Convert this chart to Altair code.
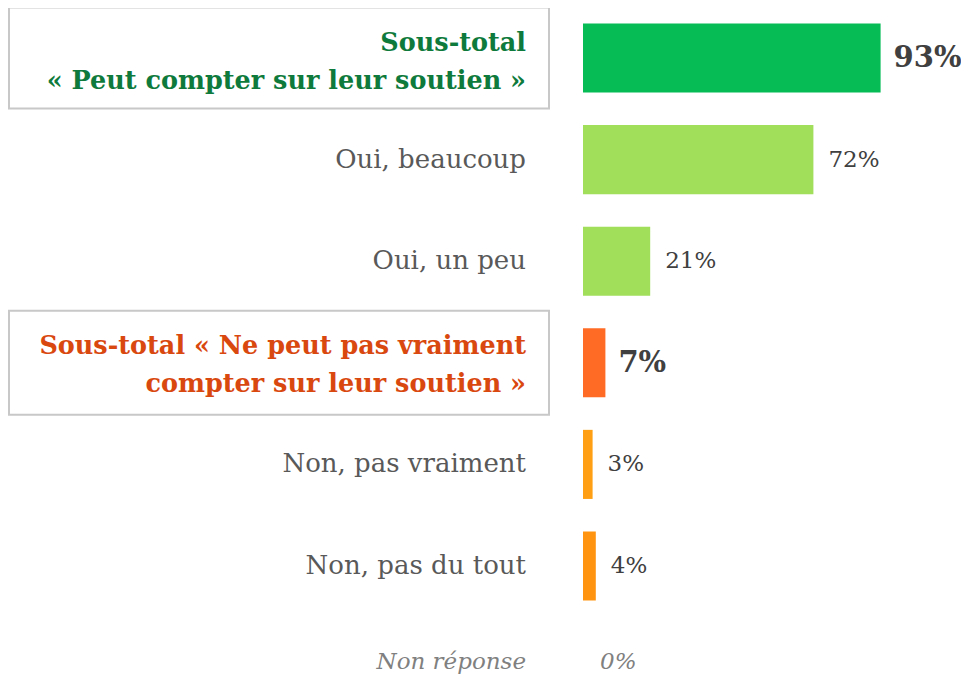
import altair as alt
import pandas as pd

labels = [
    "Sous-total\n« Peut compter sur leur soutien »",
    "Oui, beaucoup",
    "Oui, un peu",
    "Sous-total « Ne peut pas vraiment\ncompter sur leur soutien »",
    "Non, pas vraiment",
    "Non, pas du tout",
    "Non réponse",
]
values = [93, 72, 21, 7, 3, 4, 0]
groups = ["pos_total", "pos", "pos", "neg_total", "neg", "neg", "nr"]
value_text = ["93%", "72%", "21%", "7%", "3%", "4%", "0%"]

bar_colors = ["#05BC55", "#A1DE5A", "#A1DE5A", "#FF6A25", "#FFA014", "#FF9410", "#FFFFFF"]

df = pd.DataFrame({"label": labels, "value": values, "group": groups, "txt": value_text})

FONT = "DejaVu Serif"
x_scale = alt.Scale(domain=[-179.6875, 118.125], nice=False, zero=False)
y_scale = alt.Scale(domain=labels, range=[-0.8, 710.4], paddingInner=0.32, paddingOuter=0.16)
Y = alt.Y("label:N", scale=y_scale, axis=None)
X = alt.X("value:Q", scale=x_scale, axis=None)

base = alt.Chart(df)


def grp(*g):
    return alt.FieldOneOfPredicate(field="group", oneOf=list(g))


box1 = base.transform_filter(grp("pos_total")).mark_bar(
    size=101, fill="white", stroke="#C8C8C8", strokeWidth=2
).encode(x=alt.value(1), x2=alt.value(541), y=Y)

box2 = base.transform_filter(grp("neg_total")).mark_bar(
    size=104, fill="white", stroke="#C8C8C8", strokeWidth=2
).encode(x=alt.value(1), x2=alt.value(541), y=Y)

bars = base.transform_filter(grp("pos_total", "pos", "neg_total", "neg")).mark_bar().encode(
    x=X,
    x2=alt.datum(0),
    y=Y,
    color=alt.Color("label:N", scale=alt.Scale(domain=labels, range=bar_colors), legend=None),
)

val_tot = base.transform_filter(grp("pos_total", "neg_total")).mark_text(
    align="left", baseline="middle", dx=13, font=FONT, fontSize=29, fontWeight="bold", color="#404040"
).encode(x=X, y=Y, text="txt:N")

val_item = base.transform_filter(grp("pos", "neg")).mark_text(
    align="left", baseline="middle", dx=15, font=FONT, fontSize=23, color="#404040"
).encode(x=X, y=Y, text="txt:N")

val_nr = base.transform_filter(grp("nr")).mark_text(
    align="left", baseline="middle", dx=17, dy=-6, font=FONT, fontSize=23, fontStyle="italic", color="#808080"
).encode(x=X, y=Y, text="txt:N")

lab_pos = base.transform_filter(grp("pos_total")).mark_text(
    align="right", baseline="middle", lineBreak="\n", lineHeight=38, dy=-15, font=FONT,
    fontSize=25.5, fontWeight="bold", color="#0E7A3C"
).encode(x=alt.value(518), y=Y, text="label:N")

lab_neg = base.transform_filter(grp("neg_total")).mark_text(
    align="right", baseline="middle", lineBreak="\n", lineHeight=38, dy=-17, font=FONT,
    fontSize=25.5, fontWeight="bold", color="#D9480F"
).encode(x=alt.value(518), y=Y, text="label:N")

lab_item = base.transform_filter(grp("pos", "neg")).mark_text(
    align="right", baseline="middle", font=FONT, fontSize=26, color="#595959"
).encode(x=alt.value(518), y=Y, text="label:N")

lab_nr = base.transform_filter(grp("nr")).mark_text(
    align="right", baseline="middle", dy=-6, font=FONT, fontSize=23, fontStyle="italic", color="#808080"
).encode(x=alt.value(518), y=Y, text="label:N")

chart = alt.layer(
    box1, box2, bars, val_tot, val_item, val_nr, lab_pos, lab_neg, lab_item, lab_nr
).properties(
    width=953, height=669, padding=0,
    autosize=alt.AutoSizeParams(type="none"),
).configure_view(stroke=None)

chart.save("out.html", embed_options={"renderer": "svg", "actions": False})
